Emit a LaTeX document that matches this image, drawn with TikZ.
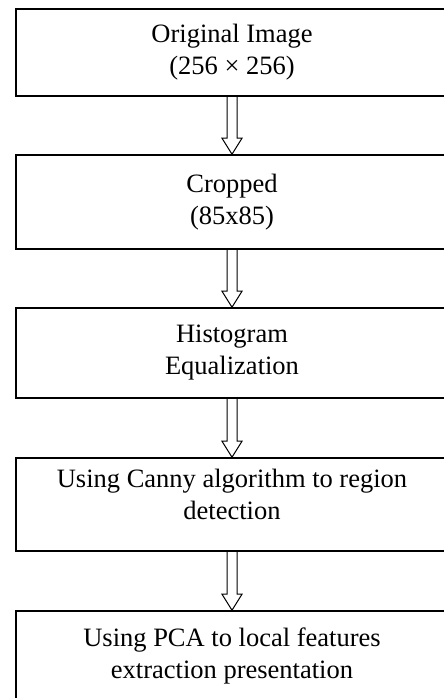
\documentclass[tikz,border=0pt]{standalone}
\usepackage{fontspec}
\setmainfont{Liberation Serif}

\tikzset{
  stepbox/.style={draw,line width=0.8pt,minimum width=216pt,align=center,
    inner sep=0pt,font=\fontsize{13.25pt}{16pt}\selectfont},
  hollow/.style={line width=0.5pt,line join=miter}
}

\begin{document}
\begin{tikzpicture}[x=0.5pt,y=-0.5pt]
\useasboundingbox (0,0) rectangle (444,698);

 \node[stepbox,minimum height=43.5pt] (orig) at (232,52.5) {Original Image\\(256 × 256)};
 \node[stepbox,minimum height=47pt] (crop) at (232,202) {Cropped\\(85x85)};
 \node[stepbox,minimum height=45pt] (hist) at (232,353) {Histogram\\Equalization};
 \node[stepbox,minimum height=46.5pt] (canny) at (232,504.5) {};
 \node[align=center,font=\fontsize{13.25pt}{16pt}\selectfont] (cannytxt) at ([yshift=5pt]canny.center)
   {Using Canny algorithm to region\\detection};
 \node[stepbox,minimum height=44.5pt] (pca) at (232,655.5) {Using PCA to local features\\extraction presentation};

 % hollow arrows between the steps
 \foreach \a/\b in {orig/crop,crop/hist,hist/canny,canny/pca}
   \draw[hollow] ([xshift=-2.5pt]\a.south) -- ([xshift=-2.5pt,yshift=8pt]\b.north)
     -- ([xshift=-5pt,yshift=8pt]\b.north) -- (\b.north)
     -- ([xshift=5pt,yshift=8pt]\b.north) -- ([xshift=2.5pt,yshift=8pt]\b.north)
     -- ([xshift=2.5pt]\a.south);
\end{tikzpicture}
\end{document}
